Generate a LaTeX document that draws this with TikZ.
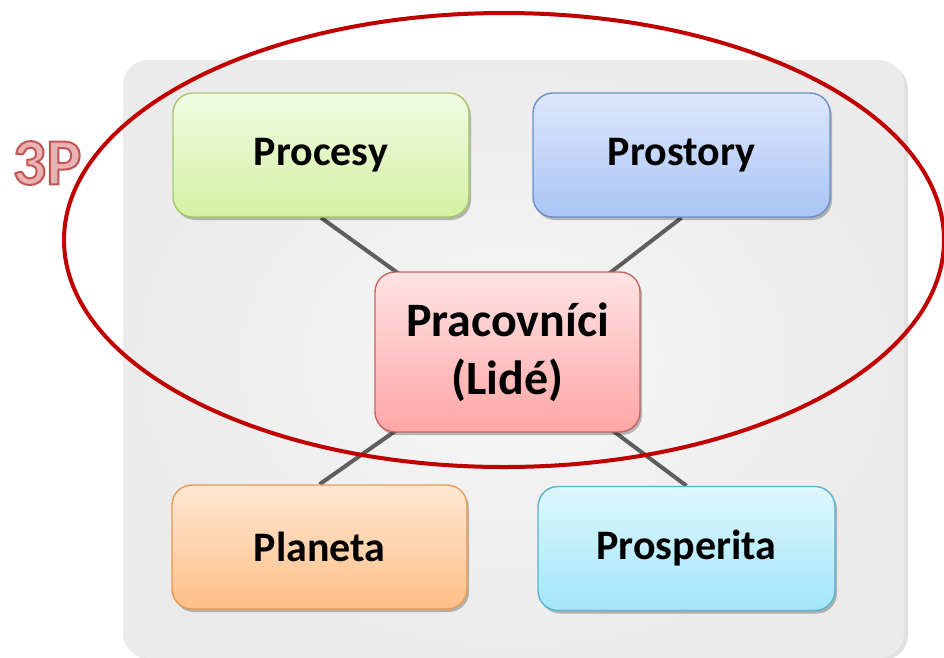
\documentclass[tikz,border=0pt]{standalone}
\usepackage{fontspec}
\setmainfont{Carlito}
\usetikzlibrary{shadows,calc}
\pgfdeclarelayer{bg}
\pgfdeclarelayer{mid}
\pgfsetlayers{bg,mid,main}
\definecolor{panelin}{HTML}{F7F7F7}
\definecolor{panelout}{HTML}{EBEBEB}
\definecolor{gtop}{HTML}{F2FCE4}
\definecolor{gbot}{HTML}{D3F1A2}
\definecolor{gbrd}{HTML}{A5C76A}
\definecolor{btop}{HTML}{DDE7FB}
\definecolor{bbot}{HTML}{A9C5F5}
\definecolor{bbrd}{HTML}{6D8DCA}
\definecolor{ptop}{HTML}{FFE3E3}
\definecolor{pbot}{HTML}{FFA6A6}
\definecolor{pbrd}{HTML}{C26565}
\definecolor{otop}{HTML}{FFE7D2}
\definecolor{obot}{HTML}{FEBF88}
\definecolor{obrd}{HTML}{E69A55}
\definecolor{ctop}{HTML}{DEF7FD}
\definecolor{cbot}{HTML}{A2E6FA}
\definecolor{cbrd}{HTML}{56B3D2}
\definecolor{ringred}{HTML}{C00000}
\definecolor{linkgray}{HTML}{5E5E5E}
\definecolor{tpfill}{HTML}{E9B3B3}
\tikzset{
  box/.style={rounded corners=20pt, line width=1.4pt, inner sep=0pt,
    minimum width=296pt, minimum height=124pt, align=center,
    font=\fontsize{42}{57}\selectfont\bfseries, text=black,
    drop shadow={shadow xshift=2pt, shadow yshift=-3pt, opacity=0.25, fill=black}},
  link/.style={draw=linkgray, line width=4pt},
  ring/.style={draw=ringred, line width=4pt},
  tpstyle/.style={font=\fontsize{66}{66}\selectfont\bfseries, inner sep=0pt, text=tpfill}
}
\newcommand{\outlinedtext}[1]{\special{pdf:literal direct 2 Tr 2 w 0.76 0.33 0.33 RG}#1\special{pdf:literal direct 0 Tr}}
\begin{document}
\begin{tikzpicture}[x=1pt,y=-1pt]
\useasboundingbox (0,0) rectangle (944,657);
\begin{pgfonlayer}{bg}
  \fill[black, opacity=0.12, rounded corners=25pt] (126,64) rectangle (908,660);
  \node[draw=none, inner color=panelin, outer color=panelout, rounded corners=25pt,
        minimum width=781pt, minimum height=598pt, inner sep=0pt] (panel) at (513.5,359) {};
\end{pgfonlayer}

\node[box, top color=gtop, bottom color=gbot, draw=gbrd] (procesy) at (321,155) {Procesy};
\node[box, top color=btop, bottom color=bbot, draw=bbrd, minimum width=297pt] (prostory) at (681.5,155) {Prostory};
\node[box, top color=ptop, bottom color=pbot, draw=pbrd, minimum width=265pt, minimum height=160pt,
      font=\fontsize{48}{58}\selectfont\bfseries] (prac) at (507.5,352) {Pracovníci\\(Lidé)};
\node[box, top color=otop, bottom color=obot, draw=obrd, minimum width=295pt] (planeta) at (319.5,547) {Planeta};
\node[box, top color=ctop, bottom color=cbot, draw=cbrd, minimum width=297pt] (prosp) at (686.5,548.5) {Prosperita};

\begin{pgfonlayer}{mid}
  \draw[link] (procesy.south) -- (prac.center);
  \draw[link] (prostory.south) -- (prac.center);
  \draw[link] (planeta.north) -- (prac.center);
  \draw[link] (prosp.north) -- (prac.center);
\end{pgfonlayer}

\node[tpstyle] (threep) at (47,163) {\outlinedtext{3P}};

\draw[ring] (504,240) ellipse [x radius=440pt, y radius=227pt];
\end{tikzpicture}
\end{document}
